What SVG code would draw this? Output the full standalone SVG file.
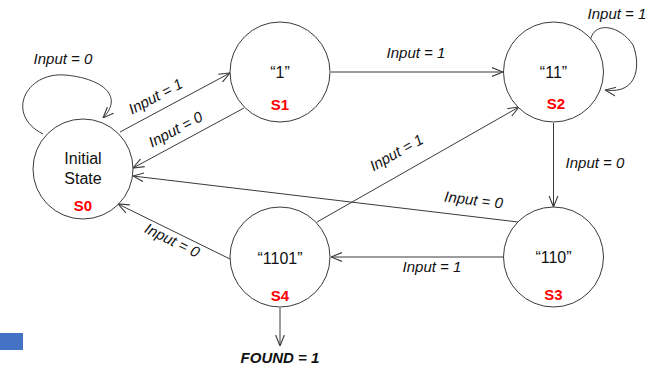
<svg xmlns="http://www.w3.org/2000/svg" width="649" height="369" viewBox="0 0 649 369">
  <style>
    .state { fill: #ffffff; stroke: #3a3a3a; stroke-width: 1; }
    .name { font-family: "Liberation Sans", Arial, sans-serif; font-size: 16px; fill: #111; text-anchor: middle; }
    .tag { font-family: "Liberation Sans", Arial, sans-serif; font-size: 15px; font-weight: bold; fill: #ff0000; text-anchor: middle; }
    .lbl { font-family: "Liberation Sans", Arial, sans-serif; font-size: 15px; font-style: italic; fill: #111; text-anchor: middle; }
    .edge { fill: none; stroke: #3a3a3a; stroke-width: 1; marker-end: url(#arrow); }
  </style>
  <defs>
    <marker id="arrow" markerUnits="userSpaceOnUse" viewBox="0 0 10 10" refX="10" refY="5" markerWidth="11" markerHeight="11" orient="auto">
      <path d="M0,1 L10,5 L0,9" fill="none" stroke="#3a3a3a" stroke-width="1"/>
    </marker>
  </defs>

  <rect width="649" height="369" fill="#ffffff"/>

  <!-- transitions -->
  <g id="connectors">
    <path class="edge" d="M43,134 C 5,115 25,72 65,75 C 100,78 125,95 103,118"/>
    <line class="edge" x1="120" y1="132" x2="230" y2="73"/>
    <line class="edge" x1="244" y1="108" x2="133" y2="168"/>
    <line class="edge" x1="331" y1="72" x2="503" y2="72"/>
    <path class="edge" d="M590,42 C 593,20 620,25 633,45 C 640,62 640,95 605,90"/>
    <line class="edge" x1="553.5" y1="123" x2="553.5" y2="207"/>
    <line class="edge" x1="518" y1="222" x2="133" y2="176"/>
    <line class="edge" x1="503" y1="257" x2="331" y2="257"/>
    <line class="edge" x1="317" y1="222" x2="519" y2="107"/>
    <line class="edge" x1="230" y1="259" x2="118" y2="204"/>
    <line class="edge" x1="280" y1="308" x2="280" y2="346"/>
  </g>

  <!-- transition labels -->
  <g id="labels">
    <text class="lbl" x="63" y="64">Input = 0</text>
    <text class="lbl" transform="translate(158,101) rotate(-28)">Input = 1</text>
    <text class="lbl" transform="translate(178,134) rotate(-28)">Input = 0</text>
    <text class="lbl" x="416" y="58">Input = 1</text>
    <text class="lbl" x="617" y="19">Input = 1</text>
    <text class="lbl" transform="translate(399,157) rotate(-29.5)">Input = 1</text>
    <text class="lbl" x="595" y="168">Input = 0</text>
    <text class="lbl" transform="translate(473,205) rotate(7)">Input = 0</text>
    <text class="lbl" x="432" y="272">Input = 1</text>
    <text class="lbl" transform="translate(170,245) rotate(26)">Input = 0</text>
    <text class="lbl" x="280" y="363" font-weight="bold">FOUND = 1</text>
  </g>

  <g id="S0">
    <circle class="state" cx="83" cy="169" r="50"/>
    <text class="name" x="83" y="164">Initial</text>
    <text class="name" x="83" y="184">State</text>
    <text class="tag" x="83" y="211">S0</text>
  </g>
  <g id="S1">
    <circle class="state" cx="280" cy="72" r="50"/>
    <text class="name" x="280" y="78">“1”</text>
    <text class="tag" x="280" y="110">S1</text>
  </g>
  <g id="S2">
    <circle class="state" cx="553.5" cy="72" r="50"/>
    <text class="name" x="553.5" y="78">“11”</text>
    <text class="tag" x="556" y="109">S2</text>
  </g>
  <g id="S3">
    <circle class="state" cx="553.5" cy="257" r="50"/>
    <text class="name" x="553.5" y="263">“110”</text>
    <text class="tag" x="553.5" y="300">S3</text>
  </g>
  <g id="S4">
    <circle class="state" cx="280" cy="257" r="50"/>
    <text class="name" x="280" y="264">“1101”</text>
    <text class="tag" x="280" y="301">S4</text>
  </g>

  <rect x="0" y="333" width="23" height="17" fill="#4472c4"/>
</svg>
